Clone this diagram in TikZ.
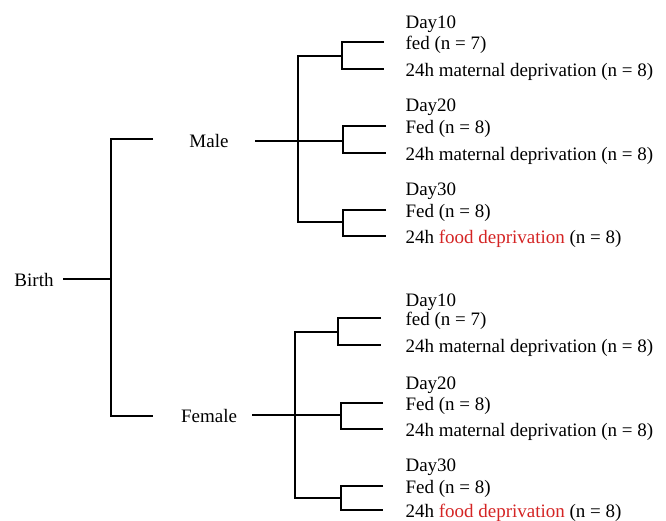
\documentclass[tikz,border=0pt]{standalone}
\usepackage{fontspec}
\setmainfont{Liberation Serif}
\definecolor{fdred}{RGB}{212,36,36}
\begin{document}
\begin{tikzpicture}[x=1pt,y=-1pt,line width=1.1pt,
  txt/.style={inner sep=0pt,font=\fontsize{19}{22}\selectfont},
  leaf/.style={txt,anchor=west,yshift=-3pt}]
\useasboundingbox (0,0) rectangle (666,521);
% root and sexes
\node[txt] (birth) at (34,280) {Birth};
\node[txt] (male) at (209,141) {Male};
\node[txt] (female) at (209,416) {Female};
\coordinate (b0) at (63,279);
\coordinate (bj) at (111,279);
\coordinate (mL) at (153,139);
\coordinate (fL) at (153,416);
\draw (b0) -- (bj);
\draw (mL) -| (bj) |- (fL);
% ---------- Male leaves
\node[leaf] (md1) at (405,21) {Day10};
\node[leaf] (m1a) at (405,42) {fed (n = 7)};
\node[leaf] (m1b) at (405,69) {24h maternal deprivation (n = 8)};
\node[leaf] (md2) at (405,104) {Day20};
\node[leaf] (m2a) at (405,126) {Fed (n = 8)};
\node[leaf] (m2b) at (405,153) {24h maternal deprivation (n = 8)};
\node[leaf] (md3) at (405,188) {Day30};
\node[leaf] (m3a) at (405,210) {Fed (n = 8)};
\node[leaf] (m3b) at (405,236) {24h \textcolor{fdred}{food deprivation} (n = 8)};
\draw ([xshift=-21pt,yshift=3pt]m1a.west) -- ++(-42,0) |- ([xshift=-21pt,yshift=3pt]m1b.west);
\draw ([xshift=-19pt,yshift=3pt]m2a.west) -- ++(-43,0) |- ([xshift=-19pt,yshift=3pt]m2b.west);
\draw ([xshift=-19pt,yshift=3pt]m3a.west) -- ++(-43,0) |- ([xshift=-19pt,yshift=3pt]m3b.west);
\coordinate (mR) at (255,141);
\coordinate (mm1) at (342,56);
\coordinate (mm2) at (343,141);
\coordinate (mm3) at (343,222);
\draw (mR) -- (mm2);
\draw (mm1) -| (298,141) |- (mm3);
% ---------- Female leaves
\node[leaf] (fd1) at (405,299) {Day10};
\node[leaf] (f1a) at (405,318) {fed (n = 7)};
\node[leaf] (f1b) at (405,345) {24h maternal deprivation (n = 8)};
\node[leaf] (fd2) at (405,382) {Day20};
\node[leaf] (f2a) at (405,403) {Fed (n = 8)};
\node[leaf] (f2b) at (405,429) {24h maternal deprivation (n = 8)};
\node[leaf] (fd3) at (405,464) {Day30};
\node[leaf] (f3a) at (405,486) {Fed (n = 8)};
\node[leaf] (f3b) at (405,510) {24h \textcolor{fdred}{food deprivation} (n = 8)};
\draw ([xshift=-24pt,yshift=3pt]f1a.west) -- ++(-43,0) |- ([xshift=-24pt,yshift=3pt]f1b.west);
\draw ([xshift=-22pt,yshift=3pt]f2a.west) -- ++(-42,0) |- ([xshift=-22pt,yshift=3pt]f2b.west);
\draw ([xshift=-22pt,yshift=3pt]f3a.west) -- ++(-42,0) |- ([xshift=-22pt,yshift=3pt]f3b.west);
\coordinate (fR) at (252,415);
\coordinate (fm1) at (338,332);
\coordinate (fm2) at (341,415);
\coordinate (fm3) at (341,498);
\draw (fR) -- (fm2);
\draw (fm1) -| (295,415) |- (fm3);
\end{tikzpicture}
\end{document}
